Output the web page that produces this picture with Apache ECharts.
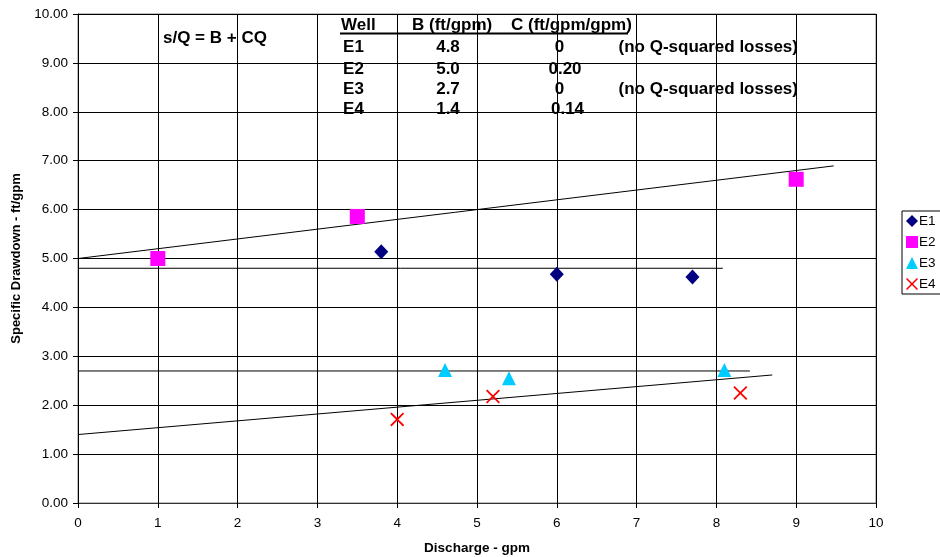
<!DOCTYPE html>
<html>
<head>
<meta charset="utf-8">
<script src="https://cdn.jsdelivr.net/npm/echarts@6/dist/echarts.min.js"></script>
<style>
  html, body { margin: 0; padding: 0; background: #fff; }
  #chart { width: 940px; height: 557px; }
</style>
</head>
<body>
<div id="chart"></div>
<script>
// Measured specific drawdown (ft/gpm) against discharge (gpm) for each well
const e1Points = [[3.8, 5.14], [6.0, 4.68], [7.7, 4.62]];
const e2Points = [[1.0, 5.0], [3.5, 5.86], [9.0, 6.62]];
const e3Points = [[4.6, 2.72], [5.4, 2.55], [8.1, 2.72]];
const e4Points = [[4.0, 1.71], [5.2, 2.18], [8.3, 2.25]];

// Fitted coefficients for s/Q = B + CQ, one entry per well
const wells = ['E1', 'E2', 'E3', 'E4'];
const bValues = [4.8, 5.0, 2.7, 1.4];
const cValues = [0, 0.20, 0, 0.14];
const notes = ['(no Q-squared losses)', '', '(no Q-squared losses)', ''];
// discharge at which each fitted line stops
const fitEndQ = [8.08, 9.47, 8.42, 8.7];

const tableHeader = ['Well', 'B (ft/gpm)', 'C (ft/gpm/gpm)'];

const xTicks = { min: 0, max: 10, interval: 1 };
const yTicks = { min: 0, max: 10, interval: 1 };

const FONT = 'Liberation Sans, Arial, sans-serif';
const xShape = 'path://M0,0.9L0.9,0L5,4.1L9.1,0L10,0.9L5.9,5L10,9.1L9.1,10L5,5.9L0.9,10L0,9.1L4.1,5Z';

const chart = echarts.init(document.getElementById('chart'), null, { renderer: 'canvas' });

function fitLine(i) {
  const b = bValues[i], c = cValues[i], q1 = fitEndQ[i];
  return {
    type: 'line', data: [[0, b], [q1, b + c * q1]], symbol: 'none', silent: true, z: 1,
    lineStyle: { color: '#000', width: 1 }
  };
}

const textBold = { font: 'bold 17px ' + FONT, fill: '#000', textVerticalAlign: 'middle' };
function txt(x, y, s, align) {
  return { type: 'text', x: x, y: y,
    style: Object.assign({ text: s, textAlign: align || 'left' }, textBold) };
}

const graphics = [];
graphics.push(txt(163, 38.5, 's/Q = B + CQ'));
graphics.push(txt(341, 25.5, tableHeader[0]));
graphics.push(txt(412, 25.5, tableHeader[1]));
graphics.push(txt(511, 25.5, tableHeader[2]));
graphics.push({ type: 'line', shape: { x1: 340, y1: 33.5, x2: 628, y2: 33.5 },
  style: { stroke: '#000', lineWidth: 2 } });
const rowY = [47.5, 69, 89, 109];
const cCenter = [559.5, 565, 559.5, 567.5];
wells.forEach(function (w, i) {
  const c = cValues[i];
  graphics.push(txt(353.5, rowY[i], w, 'center'));
  graphics.push(txt(448, rowY[i], bValues[i].toFixed(1), 'center'));
  graphics.push(txt(cCenter[i], rowY[i], c === 0 ? '0' : c.toFixed(2), 'center'));
  if (notes[i]) graphics.push(txt(618.5, rowY[i], notes[i]));
});

chart.setOption({
  animation: false,
  backgroundColor: '#fff',
  textStyle: { fontFamily: FONT },
  grid: { left: 78, right: 64, top: 14, bottom: 54, containLabel: false, outerBoundsMode: 'none',
    show: true, borderColor: '#808080', borderWidth: 1 },
  legend: {
    data: ['E1', 'E2', 'E3', 'E4'],
    orient: 'vertical',
    left: 902, top: 211,
    itemWidth: 12, itemHeight: 12, itemGap: 7,
    padding: [3, 8, 3, 4],
    borderColor: '#000', borderWidth: 1,
    textStyle: { fontFamily: FONT, fontSize: 13.5, color: '#000', padding: [0, 0, 0, -4] }
  },
  xAxis: {
    type: 'value', min: xTicks.min, max: xTicks.max, interval: xTicks.interval,
    name: 'Discharge - gpm', nameLocation: 'middle', nameGap: 38,
    nameTextStyle: { fontFamily: FONT, fontSize: 13.5, fontWeight: 'bold', color: '#000' },
    axisLine: { show: true, onZero: false, lineStyle: { color: '#333', width: 1 } },
    axisTick: { show: true, inside: false, length: 5, lineStyle: { color: '#000' } },
    axisLabel: { fontFamily: FONT, fontSize: 13.5, color: '#000', margin: 13 },
    splitLine: { show: true, lineStyle: { color: '#000', width: 1 } }
  },
  yAxis: {
    type: 'value', min: yTicks.min, max: yTicks.max, interval: yTicks.interval,
    name: 'Specific Drawdown - ft/gpm', nameLocation: 'middle', nameGap: 49, nameRotate: 90,
    nameTextStyle: { fontFamily: FONT, fontSize: 13, fontWeight: 'bold', color: '#000' },
    axisLine: { show: true, onZero: false, lineStyle: { color: '#000', width: 1 } },
    axisTick: { show: true, inside: false, length: 5, lineStyle: { color: '#000' } },
    axisLabel: { fontFamily: FONT, fontSize: 13.5, color: '#000', margin: 10,
      formatter: function (v) { return v.toFixed(2); } },
    splitLine: { show: true, lineStyle: { color: '#000', width: 1 } }
  },
  series: [
    fitLine(0), fitLine(1), fitLine(2), fitLine(3),
    { name: 'E1', type: 'scatter', data: e1Points, symbol: 'diamond', symbolSize: [14, 15], z: 3,
      itemStyle: { color: '#000080', opacity: 1 } },
    { name: 'E2', type: 'scatter', data: e2Points, symbol: 'rect', symbolSize: 15, z: 3,
      itemStyle: { color: '#FF00FF', opacity: 1 } },
    { name: 'E3', type: 'scatter', data: e3Points, symbol: 'triangle', symbolSize: [14, 14], z: 3,
      itemStyle: { color: '#00CCFF', opacity: 1 } },
    { name: 'E4', type: 'scatter', data: e4Points, symbol: xShape, symbolSize: 14, z: 3,
      itemStyle: { color: '#FF0000', opacity: 1 } }
  ],
  graphic: graphics
});
</script>
</body>
</html>
